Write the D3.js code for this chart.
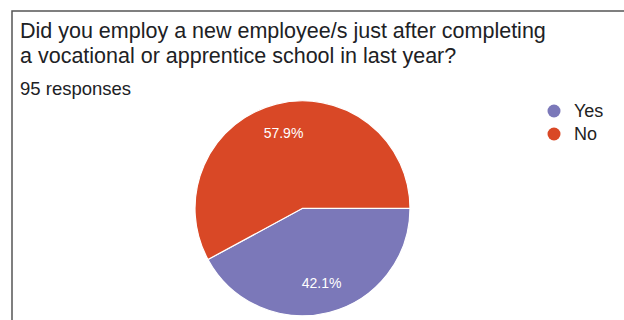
<!DOCTYPE html>
<html>
<head>
<meta charset="utf-8">
<script src="https://cdn.jsdelivr.net/npm/d3@7"></script>
<style>
  html, body { margin: 0; padding: 0; background: #fff; }
  svg { display: block; font-family: "Liberation Sans", Arial, sans-serif; }
</style>
</head>
<body>
<svg id="chart" width="624" height="320"></svg>
<script>
// Survey answers and their response shares
const categories = ["Yes", "No"];
const values = [42.1, 57.9];
const colors = ["#7b78b9", "#d94826"];
const titleLines = [
  "Did you employ a new employee/s just after completing",
  "a vocational or apprentice school in last year?"
];
const subtitle = "95 responses";

const svg = d3.select("#chart");
const W = 624, H = 320;

// card frame (open to the right and bottom)
svg.append("path")
  .attr("d", `M12,${H} L12,11 L${W},11`)
  .attr("fill", "none")
  .attr("stroke", "#555")
  .attr("stroke-width", 1.5);

// title
svg.append("g").selectAll("text")
  .data(titleLines)
  .join("text")
  .attr("x", 20)
  .attr("y", (d, i) => 38 + i * 24.5)
  .attr("font-size", 21.5)
  .attr("fill", "#202124")
  .text(d => d);

svg.append("text")
  .attr("x", 20)
  .attr("y", 94.5)
  .attr("font-size", 18.5)
  .attr("fill", "#202124")
  .text(subtitle);

// pie
const cx = 302.5, cy = 208.3, R = 107.5;
const color = d3.scaleOrdinal().domain(categories).range(colors);
const pie = d3.pie()
  .value(d => d.value)
  .sort(null)
  .startAngle(Math.PI / 2)
  .endAngle(Math.PI / 2 + 2 * Math.PI);
const data = categories.map((c, i) => ({ name: c, value: values[i] }));
const arcs = pie(data);
const arc = d3.arc().innerRadius(0).outerRadius(R);
const labelArc = d3.arc().innerRadius(R * 0.72).outerRadius(R * 0.72);

const g = svg.append("g").attr("transform", `translate(${cx},${cy})`);
g.selectAll("path")
  .data(arcs)
  .join("path")
  .attr("d", arc)
  .attr("fill", d => color(d.data.name))
  .attr("stroke", "#fff")
  .attr("stroke-width", 1.2);

g.selectAll("text")
  .data(arcs)
  .join("text")
  .attr("transform", d => `translate(${labelArc.centroid(d)})`)
  .attr("text-anchor", "middle")
  .attr("dy", "0.36em")
  .attr("font-size", 14)
  .attr("fill", "#fff")
  .text(d => d.data.value.toFixed(1) + "%");

// legend
const legend = svg.append("g").selectAll("g")
  .data(categories)
  .join("g")
  .attr("transform", (d, i) => `translate(554,${111 + i * 23})`);
legend.append("circle")
  .attr("r", 6.5)
  .attr("fill", d => color(d));
legend.append("text")
  .attr("x", 20)
  .attr("dy", "0.36em")
  .attr("font-size", 18)
  .attr("fill", "#222")
  .text(d => d);
</script>
</body>
</html>
